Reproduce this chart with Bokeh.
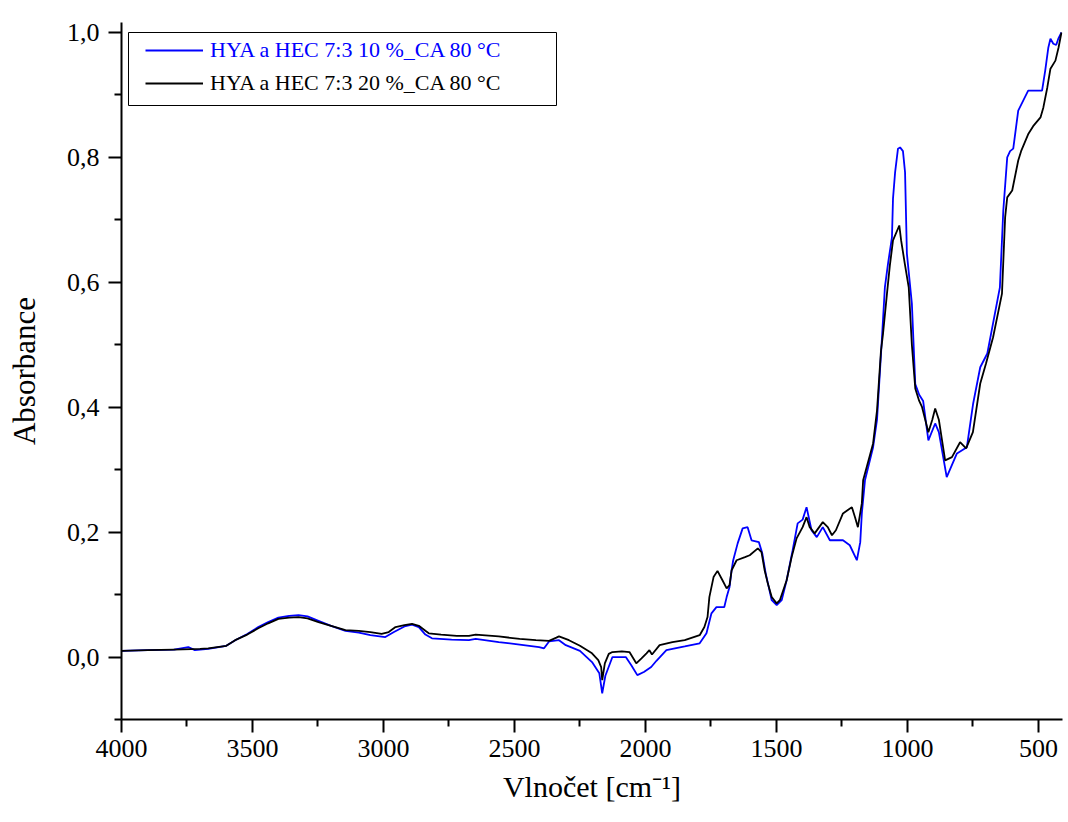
from bokeh.plotting import figure
from bokeh.models import (Range1d, FixedTicker, CustomJSTickFormatter, Legend, LegendItem,
                          BoxAnnotation, ColumnDataSource)
from bokeh.embed import file_html
from bokeh.resources import INLINE

# ---------------- data ----------------
wn_20 = [4000, 3900, 3800, 3700, 3669, 3600, 3566, 3520, 3478, 3440, 3401, 3360, 3324, 3290, 3248,
         3200, 3145, 3094, 3050, 3007, 2980, 2954, 2920, 2891, 2865, 2840, 2827, 2780, 2720, 2674,
         2648, 2560, 2480, 2418, 2368, 2340, 2330, 2292, 2250, 2204, 2180, 2169, 2165, 2155, 2140,
         2126, 2090, 2061, 2035, 2015, 1996, 1985, 1975, 1946, 1897, 1850, 1793, 1775, 1763, 1756,
         1740, 1725, 1706, 1690, 1679, 1671, 1652, 1620, 1602, 1571, 1557, 1545, 1533, 1518, 1499,
         1487, 1461, 1442, 1423, 1400, 1385, 1373, 1354, 1323, 1304, 1288, 1273, 1246, 1212, 1200,
         1189, 1174, 1169, 1131, 1116, 1101, 1093, 1078, 1067, 1055, 1031, 1024, 1010, 995, 983,
         970, 955, 944, 920, 905, 894, 880, 856, 830, 799, 776, 750, 722, 700, 673, 639, 627, 619,
         600, 577, 566, 538, 520, 492, 481, 466, 454, 435, 423, 412]
abs_20 = [0.010, 0.011, 0.012, 0.013, 0.014, 0.018, 0.027, 0.036, 0.046, 0.054, 0.061, 0.063, 0.064,
          0.062, 0.056, 0.050, 0.043, 0.042, 0.040, 0.037, 0.040, 0.048, 0.051, 0.053, 0.050, 0.042,
          0.038, 0.036, 0.034, 0.034, 0.036, 0.033, 0.029, 0.027, 0.026, 0.031, 0.033, 0.027, 0.018,
          0.006, -0.005, -0.016, -0.037, -0.010, 0.005, 0.008, 0.009, 0.008, -0.010, -0.002, 0.006,
          0.011, 0.004, 0.019, 0.024, 0.027, 0.035, 0.048, 0.064, 0.096, 0.128, 0.138, 0.123, 0.110,
          0.115, 0.139, 0.155, 0.160, 0.163, 0.174, 0.168, 0.139, 0.118, 0.096, 0.086, 0.091, 0.123,
          0.160, 0.190, 0.208, 0.224, 0.208, 0.198, 0.216, 0.208, 0.195, 0.203, 0.230, 0.240, 0.224,
          0.208, 0.246, 0.283, 0.342, 0.395, 0.490, 0.518, 0.582, 0.627, 0.667, 0.691, 0.667, 0.630,
          0.592, 0.500, 0.430, 0.410, 0.400, 0.360, 0.380, 0.398, 0.380, 0.315, 0.320, 0.344, 0.334,
          0.360, 0.438, 0.470, 0.512, 0.582, 0.704, 0.736, 0.747, 0.795, 0.810, 0.838, 0.850, 0.864,
          0.880, 0.912, 0.942, 0.955, 0.976, 1.000]

wn_10 = [4000, 3900, 3800, 3745, 3720, 3669, 3600, 3566, 3520, 3478, 3440, 3401, 3360, 3324, 3290,
         3248, 3200, 3145, 3094, 3050, 2993, 2960, 2920, 2891, 2865, 2840, 2815, 2740, 2674, 2648,
         2560, 2480, 2406, 2387, 2368, 2330, 2304, 2250, 2204, 2176, 2165, 2153, 2126, 2075, 2054,
         2031, 2006, 1978, 1958, 1920, 1850, 1793, 1767, 1748, 1729, 1699, 1690, 1679, 1671, 1665,
         1648, 1629, 1610, 1595, 1567, 1554, 1541, 1518, 1499, 1480, 1461, 1438, 1419, 1400, 1385,
         1366, 1346, 1323, 1296, 1246, 1220, 1193, 1180, 1174, 1162, 1131, 1116, 1097, 1086, 1074,
         1059, 1055, 1047, 1036, 1028, 1017, 1009, 1002, 983, 970, 955, 940, 920, 894, 880, 850,
         811, 773, 749, 722, 695, 647, 634, 619, 608, 596, 577, 558, 539, 486, 474, 462, 454, 443,
         432, 424, 412]
abs_10 = [0.010, 0.011, 0.012, 0.016, 0.011, 0.013, 0.018, 0.027, 0.037, 0.048, 0.056, 0.063, 0.066,
          0.067, 0.065, 0.058, 0.050, 0.042, 0.039, 0.035, 0.032, 0.040, 0.049, 0.052, 0.048, 0.036,
          0.030, 0.028, 0.027, 0.029, 0.024, 0.020, 0.016, 0.014, 0.025, 0.027, 0.019, 0.010, -0.008,
          -0.026, -0.058, -0.030, 0.000, 0.000, -0.013, -0.029, -0.024, -0.016, -0.006, 0.011, 0.017,
          0.022, 0.038, 0.070, 0.080, 0.080, 0.096, 0.112, 0.139, 0.155, 0.182, 0.206, 0.208, 0.187,
          0.184, 0.166, 0.134, 0.091, 0.083, 0.091, 0.123, 0.171, 0.214, 0.220, 0.240, 0.203, 0.192,
          0.208, 0.187, 0.187, 0.179, 0.155, 0.184, 0.230, 0.283, 0.336, 0.380, 0.512, 0.592, 0.630,
          0.672, 0.734, 0.776, 0.814, 0.816, 0.810, 0.776, 0.646, 0.566, 0.437, 0.420, 0.410, 0.347,
          0.374, 0.360, 0.288, 0.326, 0.336, 0.406, 0.464, 0.486, 0.592, 0.715, 0.800, 0.810, 0.814,
          0.875, 0.891, 0.907, 0.907, 0.939, 0.976, 0.990, 0.982, 0.980, 0.990, 1.000]

labels = ["HYA a HEC 7:3 10 %_CA 80 °C", "HYA a HEC 7:3 20 %_CA 80 °C"]
colors = ["#0000ff", "#000000"]

x_major = [4000, 3500, 3000, 2500, 2000, 1500, 1000, 500]
x_minor = [3750, 3250, 2750, 2250, 1750, 1250, 750]
y_major = [0.0, 0.2, 0.4, 0.6, 0.8, 1.0]
y_minor = [-0.1, 0.1, 0.3, 0.5, 0.7, 0.9]

FONT = "Liberation Serif"

p = figure(frame_width=941, frame_height=697, output_backend="svg", toolbar_location=None,
           x_range=Range1d(4000, 408), y_range=Range1d(-0.1, 1.016),
           min_border_left=121, min_border_top=22, min_border_right=6, min_border_bottom=90,
           background_fill_color="white", border_fill_color="white")
p.outline_line_color = None
p.grid.visible = False

src10 = ColumnDataSource(dict(x=wn_10, y=abs_10))
src20 = ColumnDataSource(dict(x=wn_20, y=abs_20))
r10 = p.line("x", "y", source=src10, line_color=colors[0], line_width=1.8)
r20 = p.line("x", "y", source=src20, line_color=colors[1], line_width=1.8)

for ax in (p.xaxis[0], p.yaxis[0]):
    ax.axis_line_width = 2
    ax.major_tick_line_width = 2
    ax.minor_tick_line_width = 2
    ax.major_tick_in = 0
    ax.major_tick_out = 13
    ax.minor_tick_in = 0
    ax.minor_tick_out = 7
    ax.major_label_text_font = FONT
    ax.major_label_text_font_size = "26px"
    ax.major_label_text_color = "black"
    ax.axis_label_text_font = FONT
    ax.axis_label_text_font_style = "normal"
    ax.axis_label_text_color = "black"

p.xaxis[0].ticker = FixedTicker(ticks=x_major, minor_ticks=x_minor)
p.yaxis[0].ticker = FixedTicker(ticks=y_major, minor_ticks=y_minor)
p.yaxis[0].formatter = CustomJSTickFormatter(code="return tick.toFixed(1).replace('.', ',');")
p.xaxis[0].axis_label = "Vlnočet [cm⁻¹]"
p.yaxis[0].axis_label = "Absorbance"
p.xaxis[0].axis_label_text_font_size = "30px"
p.yaxis[0].axis_label_text_font_size = "31px"
p.xaxis[0].major_label_standoff = 7
p.xaxis[0].axis_label_standoff = 10
p.yaxis[0].major_label_standoff = 9
p.yaxis[0].axis_label_standoff = 22

# legend frame
box = BoxAnnotation(left=7, right=435, top=687, bottom=614,
                    left_units="screen", right_units="screen", top_units="screen", bottom_units="screen",
                    fill_color="white", fill_alpha=1, line_color="black", line_alpha=1, line_width=1)
p.add_layout(box)

for r, lab, col, yloc in ((r10, labels[0], colors[0], 656), (r20, labels[1], colors[1], 623)):
    lg = Legend(items=[LegendItem(label=lab, renderers=[r])], location=(24, yloc),
                label_text_font=FONT, label_text_font_size="22px", label_text_color=col,
                glyph_width=58, glyph_height=26, label_height=26, label_standoff=7,
                padding=0, margin=0, spacing=0, border_line_alpha=0,
                background_fill_alpha=0)
    p.add_layout(lg, "center")

open("out.html", "w").write(file_html(p, INLINE))
